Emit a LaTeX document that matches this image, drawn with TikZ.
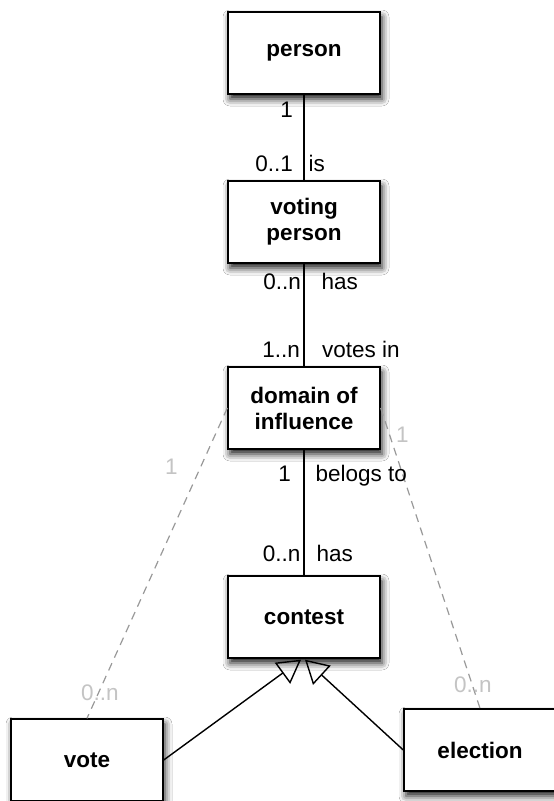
\documentclass[tikz,border=0pt]{standalone}
\usepackage{fontspec}
\setmainfont{Liberation Sans}
\usetikzlibrary{calc,arrows.meta,shadows.blur}
\definecolor{lblgray}{HTML}{C4C4C4}
\definecolor{dashgray}{HTML}{999999}
\tikzset{
  entity/.style={draw=black, line width=1.4pt, fill=white,
    minimum width=152pt, minimum height=82pt, inner sep=0pt,
    align=center, font=\fontsize{22.5}{26}\selectfont\bfseries,
    blur shadow={shadow xshift=2pt, shadow yshift=-5pt, shadow blur radius=7pt, shadow opacity=90}},
  mult/.style={inner sep=0pt, font=\fontsize{22.5}{25}\selectfont},
  gmult/.style={mult, text=lblgray},
  assoc/.style={line width=1.4pt},
  dep/.style={draw=dashgray, line width=1.2pt, dash pattern=on 8pt off 6pt},
  gen/.style={line width=1.4pt, -{Triangle[open, length=23pt, width=26pt, line width=1.4pt]}}
}
\begin{document}
\begin{tikzpicture}[x=1pt, y=-1pt]
\useasboundingbox (0,0) rectangle (554,801);
\fill[white] (0,0) rectangle (554,801);

\node[entity] (person) at (304,53) {person};
\node[entity] (voting) at (304,222) {voting\\person};
\node[entity] (domain) at (304,408) {domain of\\influence};
\node[entity] (contest) at (304,617) {contest};
\node[entity] (vote) at (87,760) {vote};
\node[entity] (election) at (480,750) {election};

% associations
\draw[assoc] (person.south) -- (voting.north);
\draw[assoc] (voting.south) -- (domain.north);
\draw[assoc] (domain.south) -- (contest.north);

% dependencies
\draw[dep] (domain.west) -- (vote.north);
\draw[dep] (domain.east) -- (election.north);

% generalizations
\coordinate (tipL) at ($(contest.south)+(-3,1)$);
\coordinate (tipR) at ($(contest.south)+(1,1)$);
\draw[gen] (vote.east) -- (tipL);
\draw[gen] (election.west) -- (tipR);

% multiplicities and roles
\node[mult, anchor=base east] (m1) at (293,117) {1};
\node[mult, anchor=base east] (m2) at (293,171) {0..1};
\node[mult, anchor=base west] (r1) at (308.5,171) {is};
\node[mult, anchor=base east] (m3) at (301,289) {0..n};
\node[mult, anchor=base west] (r2) at (321.5,289) {has};
\node[mult, anchor=base east] (m4) at (300,357) {1..n};
\node[mult, anchor=base west] (r3) at (322,357) {votes in};
\node[mult, anchor=base east] (m5) at (291,481) {1};
\node[mult, anchor=base west] (r4) at (315.5,481) {belogs to};
\node[mult, anchor=base east] (m6) at (300.5,561) {0..n};
\node[mult, anchor=base west] (r5) at (316.5,561) {has};

\node[gmult, anchor=base west] (g1) at (165,474) {1};
\node[gmult, anchor=base west] (g2) at (396,442) {1};
\node[gmult, anchor=base west] (g3) at (81,700) {0..n};
\node[gmult, anchor=base west] (g4) at (454,692) {0..n};
\end{tikzpicture}
\end{document}
